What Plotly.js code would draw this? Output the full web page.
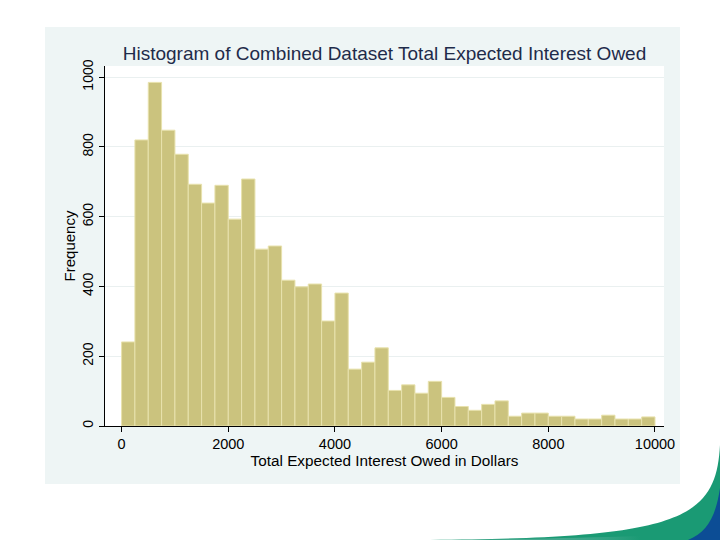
<!DOCTYPE html>
<html>
<head>
<meta charset="utf-8">
<script src="https://cdn.plot.ly/plotly-3.0.1.min.js"></script>
<style>
  html, body { margin: 0; padding: 0; background: #ffffff; }
  #page { position: relative; width: 720px; height: 540px; overflow: hidden; }
  #panel { position: absolute; left: 45px; top: 27px; width: 635px; height: 457px; background: #eef5f5; }
  #chart { position: absolute; left: 0; top: 0; width: 720px; height: 540px; }
  #swoosh { position: absolute; left: 0; top: 0; pointer-events: none; }
</style>
</head>
<body>
<div id="page">
  <div id="panel"></div>
  <div id="chart"></div>
  <svg id="swoosh" width="720" height="540">
    <defs>
      <linearGradient id="fade" x1="0" x2="1" y1="0" y2="0">
        <stop offset="0" stop-color="#c9d6de" stop-opacity="0"/>
        <stop offset="1" stop-color="#1a9a74"/>
      </linearGradient>
    </defs>
    <path d="M430 540 C680 538 716 520 720 445 L720 540 Z" fill="#1a9a74"/>
    <path d="M430 540 C520 539 580 538 640 536 L640 540 Z" fill="url(#fade)"/>
    <path d="M688 540 C708 532 716 515 720 488 L720 540 Z" fill="#0c4d95"/>
  </svg>
</div>
<script>
// bins of $250 from 0 to 10000
const binStart = 0;
const binWidth = 250;
const counts = [241, 820, 985, 848, 779, 693, 639, 690, 593, 708,
                507, 516, 418, 399, 407, 301, 381, 163, 183, 224,
                102, 118, 94, 128, 82, 56, 45, 62, 72, 28,
                37, 37, 28, 28, 20, 20, 31, 20, 20, 26];

const xTicks = [0, 2000, 4000, 6000, 8000, 10000];
const xTickText = ["0", "2000", "4000", "6000", "8000", "10000"];
const yTicks = [0, 200, 400, 600, 800, 1000];
const yTickText = ["0", "200", "400", "600", "800", "1000"];

const chartTitle = "Histogram of Combined Dataset Total Expected Interest Owed";
const xTitle = "Total Expected Interest Owed in Dollars";
const yTitle = "Frequency";

const font = "Liberation Sans, Arial, sans-serif";

var trace = {
    type: "bar",
    y: counts,
    x0: binStart + binWidth / 2,
    dx: binWidth,
    width: binWidth,
    marker: { color: "#cbc37e", line: { color: "#e8e2ad", width: 1 } },
    hoverinfo: "x+y"
};

var layout = {
    width: 720, height: 540,
    margin: { l: 105, r: 56, t: 66, b: 114 },
    paper_bgcolor: "rgba(0,0,0,0)",
    plot_bgcolor: "#ffffff",
    showlegend: false,
    bargap: 0,
    font: { family: font, color: "#000000" },
    title: {
        text: chartTitle,
        font: { family: font, size: 19, color: "#1e2b4a" },
        x: 0.5, xref: "paper",
        y: 1 - 53 / 540, yref: "container", yanchor: "middle"
    },
    xaxis: {
        range: [-311, 10169],
        tickvals: xTicks, ticktext: xTickText,
        ticks: "outside", ticklen: 5, tickcolor: "#000000",
        showline: true, linecolor: "#000000", linewidth: 1,
        showgrid: false, zeroline: false,
        tickfont: { family: font, size: 14.5, color: "#000000" },
        title: { text: xTitle, font: { family: font, size: 15.3, color: "#000000" }, standoff: 3 },
        automargin: false
    },
    yaxis: {
        range: [0, 1032],
        tickvals: yTicks, ticktext: yTickText,
        tickangle: -90,
        ticks: "outside", ticklen: 5, tickcolor: "#000000",
        showline: true, linecolor: "#000000", linewidth: 1,
        showgrid: true, gridcolor: "#eaf0f0", gridwidth: 1,
        zeroline: false,
        tickfont: { family: font, size: 14, color: "#000000" },
        title: { text: yTitle, font: { family: font, size: 15, color: "#000000" }, standoff: 1 },
        automargin: false
    }
};

Plotly.newPlot("chart", [trace], layout, { displayModeBar: false, staticPlot: true });
</script>
</body>
</html>
